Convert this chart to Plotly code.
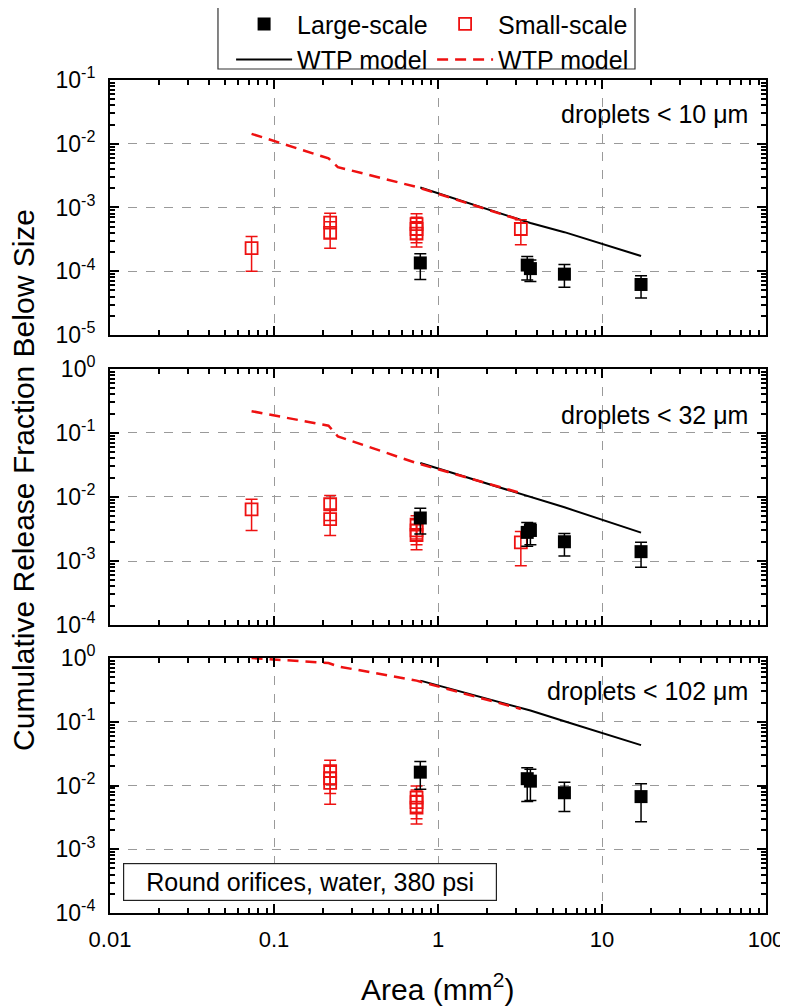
import plotly.graph_objects as go

FONT = "Arial, Liberation Sans, sans-serif"

# ---------------- data ----------------
# orifice areas (mm^2)
small_area = [0.073, 0.22, 0.22, 0.74, 0.74, 0.74, 3.2]
small_area_p3 = [0.22, 0.22, 0.22, 0.74, 0.74, 0.74]
large_area = [0.78, 3.5, 3.66, 5.9, 17.3]
model_small_area = [0.073, 0.215, 0.245, 0.74, 3.2]
model_large_area = [0.78, 3.5, 3.66, 5.9, 17.3]

# panel 1: droplets < 10 um
p1_small = [2.3e-4, 5.8e-4, 4.0e-4, 5.5e-4, 4.6e-4, 3.9e-4, 4.6e-4]
p1_small_hi = [3.5e-4, 8.1e-4, 6.0e-4, 8.0e-4, 7.0e-4, 6.0e-4, 6.4e-4]
p1_small_lo = [1.0e-4, 3.3e-4, 2.3e-4, 3.2e-4, 2.8e-4, 2.4e-4, 2.6e-4]
p1_large = [1.35e-4, 1.25e-4, 1.1e-4, 9.0e-5, 6.2e-5]
p1_large_hi = [1.88e-4, 1.7e-4, 1.5e-4, 1.27e-4, 8.5e-5]
p1_large_lo = [7.4e-5, 7.3e-5, 6.9e-5, 5.6e-5, 3.8e-5]
p1_model_small = [1.43e-2, 5.9e-3, 4.3e-3, 2.1e-3, 6.3e-4]
p1_model_large = [2.06e-3, 6.0e-4, 5.7e-4, 4.1e-4, 1.73e-4]

# panel 2: droplets < 32 um
p2_small = [6.4e-3, 7.7e-3, 4.5e-3, 3.7e-3, 3.0e-3, 2.55e-3, 1.96e-3]
p2_small_hi = [9.2e-3, 1.06e-2, 6.5e-3, 5.1e-3, 4.4e-3, 3.7e-3, 2.9e-3]
p2_small_lo = [3.0e-3, 4.3e-3, 2.5e-3, 2.2e-3, 1.8e-3, 1.5e-3, 8.4e-4]
p2_large = [4.7e-3, 2.8e-3, 3.0e-3, 2.0e-3, 1.4e-3]
p2_large_hi = [6.7e-3, 4.0e-3, 3.9e-3, 2.7e-3, 1.97e-3]
p2_large_lo = [2.65e-3, 1.7e-3, 1.8e-3, 1.2e-3, 8.0e-4]
p2_model_small = [0.219, 0.13, 0.0887, 0.0339, 0.0115]
p2_model_large = [0.0339, 0.0105, 0.0101, 6.9e-3, 2.78e-3]

# panel 3: droplets < 102 um
p3_small = [0.0168, 0.013, 0.011, 6.45e-3, 5.5e-3, 4.5e-3]
p3_small_hi = [0.025, 0.02, 0.016, 9.8e-3, 8.5e-3, 7.0e-3]
p3_small_lo = [0.0105, 7.5e-3, 5.1e-3, 3.8e-3, 3.0e-3, 2.5e-3]
p3_large = [0.0162, 0.0128, 0.0117, 7.7e-3, 6.7e-3]
p3_large_hi = [0.0237, 0.019, 0.018, 0.0113, 0.0107]
p3_large_lo = [8.7e-3, 5.6e-3, 5.8e-3, 3.9e-3, 2.7e-3]
p3_model_small = [1.0, 0.835, 0.74, 0.442, 0.159]
p3_model_large = [0.442, 0.155, 0.15, 0.102, 0.043]

panel_labels = ["droplets < 10 \u03bcm", "droplets < 32 \u03bcm", "droplets < 102 \u03bcm"]
x_tick_vals = [0.01, 0.1, 1, 10, 100]
x_tick_text = ["0.01", "0.1", "1", "10", "100"]
y_ranges_exp = [(-5, -1), (-4, 0), (-4, 0)]

# ---------------- figure ----------------
fig = go.Figure()

panels = [
    (small_area, p1_small, p1_small_hi, p1_small_lo, p1_large, p1_large_hi, p1_large_lo, p1_model_small, p1_model_large),
    (small_area, p2_small, p2_small_hi, p2_small_lo, p2_large, p2_large_hi, p2_large_lo, p2_model_small, p2_model_large),
    (small_area_p3, p3_small, p3_small_hi, p3_small_lo, p3_large, p3_large_hi, p3_large_lo, p3_model_small, p3_model_large),
]

for i, (sa, s, shi, slo, l, lhi, llo, ms, ml) in enumerate(panels):
    xa = "x" if i == 0 else f"x{i+1}"
    ya = "y" if i == 0 else f"y{i+1}"
    first = i == 0
    fig.add_trace(go.Scatter(
        x=model_large_area, y=ml, mode="lines", xaxis=xa, yaxis=ya,
        line=dict(color="black", width=2), name="WTP model",
        showlegend=first, legend="legend", legendrank=2, hoverinfo="skip"))
    fig.add_trace(go.Scatter(
        x=model_small_area, y=ms, mode="lines", xaxis=xa, yaxis=ya,
        line=dict(color="#ee1111", width=2.5, dash="11px,7px"), name="WTP model",
        showlegend=first, legend="legend2", legendrank=2, hoverinfo="skip"))
    fig.add_trace(go.Scatter(
        x=sa, y=s, mode="markers", xaxis=xa, yaxis=ya, name="Small-scale",
        marker=dict(symbol="square-open", size=12, color="#ee1111", line=dict(width=1.8, color="#ee1111")),
        error_y=dict(type="data", symmetric=False,
                     array=[h - v for h, v in zip(shi, s)],
                     arrayminus=[v - lo for v, lo in zip(s, slo)],
                     color="#ee1111", thickness=1.5, width=6),
        showlegend=first, legend="legend2", legendrank=1))
    fig.add_trace(go.Scatter(
        x=large_area, y=l, mode="markers", xaxis=xa, yaxis=ya, name="Large-scale",
        marker=dict(symbol="square", size=13, color="black"),
        error_y=dict(type="data", symmetric=False,
                     array=[h - v for h, v in zip(lhi, l)],
                     arrayminus=[v - lo for v, lo in zip(l, llo)],
                     color="black", thickness=1.5, width=6),
        showlegend=first, legend="legend", legendrank=1))

# layout geometry (paper fractions)
domains = [(0.6939, 1.0), (0.3457, 0.6531), (0.0, 0.3061)]

axis_common = dict(
    type="log", showline=True, linewidth=2, linecolor="black", mirror="allticks",
    ticks="inside", ticklen=9, tickwidth=1.5, tickcolor="black",
    showgrid=True, gridcolor="#9a9a9a", griddash="dash", gridwidth=1,
    zeroline=False, tickfont=dict(family=FONT, size=22, color="black"),
)

x_minor = [m * 10 ** e for e in range(-2, 2) for m in range(2, 10)]

# the page body adds an 8px offset, so the figure is 8px smaller than the window
layout = dict(
    width=780, height=998,
    margin=dict(l=102, r=22, t=72, b=93, autoexpand=False),
    paper_bgcolor="white", plot_bgcolor="white",
    font=dict(family=FONT, size=22, color="black"),
)

for i in range(3):
    xk = "xaxis" if i == 0 else f"xaxis{i+1}"
    yk = "yaxis" if i == 0 else f"yaxis{i+1}"
    ya = "y" if i == 0 else f"y{i+1}"
    xa = "x" if i == 0 else f"x{i+1}"
    lo, hi = y_ranges_exp[i]
    yvals = [10.0 ** e for e in range(lo, hi + 1)]
    ytext = [f"10<sup>{e}</sup>" for e in range(lo, hi + 1)]
    y_minor = [m * 10.0 ** e for e in range(lo, hi) for m in range(2, 10)]
    layout[xk] = dict(
        axis_common, range=[-2, 2], domain=[0, 1], anchor=ya,
        tickmode="array", tickvals=x_tick_vals, ticktext=x_tick_text,
        showticklabels=(i == 2), ticklabelstandoff=6, automargin=False,
        minor=dict(tickmode="array", tickvals=x_minor, ticks="inside", ticklen=5,
                   tickwidth=1.5, tickcolor="black", showgrid=False),
    )
    layout[yk] = dict(
        axis_common, range=[lo, hi], domain=list(domains[i]), anchor=xa,
        tickmode="array", tickvals=yvals, ticktext=ytext, ticklabelstandoff=8,
        automargin=False, tickfont=dict(family=FONT, size=23, color="black"),
        minor=dict(tickmode="array", tickvals=y_minor, ticks="inside", ticklen=5,
                   tickwidth=1.5, tickcolor="black", showgrid=False),
    )

fig.update_layout(**layout)

annotations = []
label_y = [0.867, 0.82, 0.87]
for i in range(3):
    xa = "x" if i == 0 else f"x{i+1}"
    ya = "y" if i == 0 else f"y{i+1}"
    annotations.append(dict(
        text=panel_labels[i], xref=f"{xa} domain", yref=f"{ya} domain",
        x=0.976, y=label_y[i], xanchor="right", yanchor="middle", showarrow=False,
        font=dict(family=FONT, size=25, color="black")))

annotations.append(dict(
    text="Round orifices, water, 380 psi", xref="x3 domain", yref="y3 domain",
    x=0.305, y=0.1216, xanchor="center", yanchor="middle", showarrow=False,
    width=370, height=34, bordercolor="#222222", borderwidth=1.2, borderpad=1,
    bgcolor="white", font=dict(family=FONT, size=25, color="black")))

annotations.append(dict(
    text="Cumulative Release Fraction Below Size", xref="paper", yref="paper",
    x=-0.131, y=0.52, textangle=-90, showarrow=False, xanchor="center", yanchor="middle",
    font=dict(family=FONT, size=30, color="black")))

annotations.append(dict(
    text="Area (mm<sup>2</sup>)", xref="paper", yref="paper",
    x=0.4985, y=-0.0888, showarrow=False, xanchor="center", yanchor="middle",
    font=dict(family=FONT, size=30, color="black")))

fig.update_layout(annotations=annotations)

legend_common = dict(
    orientation="v", bgcolor="rgba(0,0,0,0)", borderwidth=0,
    font=dict(family=FONT, size=25, color="black"),
    itemwidth=56, tracegroupgap=0, xanchor="left", yanchor="top",
    traceorder="normal",
)
fig.update_layout(
    legend=dict(legend_common, x=0.1846, y=1.0946),
    legend2=dict(legend_common, x=0.491, y=1.0946),
    shapes=[dict(type="rect", xref="paper", yref="paper",
                 x0=0.1646, x1=0.8003, y0=1.0132, y1=1.0876,
                 line=dict(color="#333333", width=1.2), fillcolor="rgba(0,0,0,0)")],
)

fig.write_html("out.html")
